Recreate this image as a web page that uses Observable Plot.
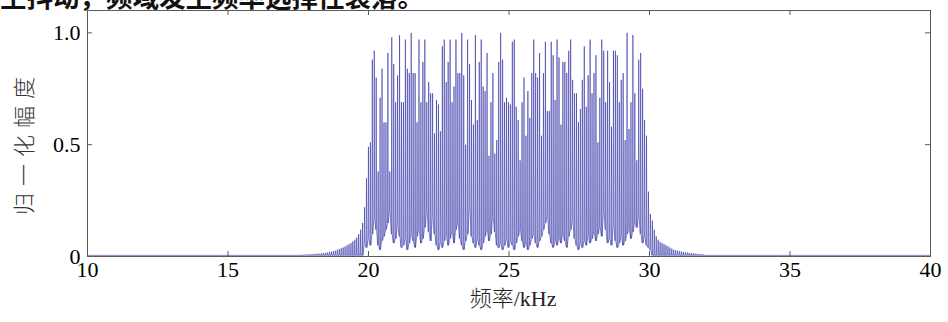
<!DOCTYPE html>
<html><head><meta charset="utf-8">
<script src="https://cdn.jsdelivr.net/npm/d3@7"></script>
<script src="https://cdn.jsdelivr.net/npm/@observablehq/plot@0.6"></script>
<style>
body{margin:0;background:#fff;}
#wrap{position:relative;width:948px;height:322px;overflow:hidden;}
svg{overflow:hidden;}
</style></head><body><div id="wrap"></div>
<script>
const titleText = "生抖动，频域发生频率选择性衰落。";
const xLabel = "频率/kHz";
const yLabel = "归一化幅度";
const xTicks = [10, 15, 20, 25, 30, 35, 40];
const yTicks = [0, 0.5, 1.0];
const xDomain = [10, 40];
const yDomain = [0, 1.1];
// frequency bins (kHz): first bin and bin spacing
const startFreq = 17.645;
const binStep = 0.0692;
const floorLevel = 0.005;
// spike heights, low-frequency skirt
const leftTailPeaks = [0.008,0.008,0.009,0.009,0.01,0.01,0.011,0.012,0.012,0.013,0.014,0.015,0.016,0.018,0.02,0.022,0.024,0.026,0.03,0.033,0.037,0.04,0.045,0.05,0.055,0.06,0.068,0.075,0.085,0.1,0.12,0.15];
// spike heights, main band (~19.9–30 kHz)
const mainPeaks = [0.22,0.35,0.49,0.51,0.88,0.92,0.80,0.38,0.71,0.84,
0.60,0.60,0.91,0.38,0.98,0.86,0.69,0.81,0.99,0.69,
0.69,0.97,0.84,0.82,1.00,0.82,0.82,0.60,0.97,0.69,
0.87,0.97,0.69,0.78,0.73,0.73,0.55,0.70,0.68,0.56,
0.94,0.97,0.78,0.87,0.97,0.69,0.76,0.97,0.82,0.82,
1.00,0.81,0.50,0.97,0.86,0.70,0.59,0.99,0.61,0.87,
0.97,0.76,0.74,0.91,0.45,0.69,0.82,0.46,0.52,0.87,
1.00,0.88,0.69,0.71,0.69,0.68,0.96,0.97,0.67,0.61,
0.43,0.69,0.80,0.54,0.74,0.62,0.82,0.97,0.82,0.80,
0.91,0.54,0.82,0.96,0.65,0.65,0.96,0.90,0.70,0.97,
0.89,0.59,0.87,0.87,0.82,0.92,0.97,0.79,0.73,0.73,
0.60,0.66,0.79,0.94,0.67,0.81,0.97,0.73,0.82,0.90,
0.51,0.71,0.97,0.92,0.69,0.92,0.78,0.58,0.92,0.92,
0.90,0.69,0.79,0.82,0.52,1.00,0.57,0.69,0.99,0.73,
0.43,0.88,0.91,0.75,0.61,0.54,0.29,0.19];
// spike heights, high-frequency skirt
const rightTailPeaks = [0.16,0.12,0.09,0.075,0.065,0.06,0.055,0.05,0.045,0.04,0.035,0.03,0.028,0.026,0.024,0.022,0.02,0.018,0.017,0.016,0.015,0.014,0.013,0.012,0.011,0.01,0.01];
// low-level floor between spikes in the main band
const mainTroughs = [0.06,0.04,0.08,0.05,0.1,0.17,0.12,0.05,0.03,0.07,
0.09,0.12,0.15,0.2,0.1,0.06,0.08,0.14,0.09,0.04,
0.05,0.08,0.03,0.06,0.1,0.07,0.04,0.09,0.12,0.06,
0.08,0.13,0.2,0.11,0.07,0.18,0.1,0.05,0.03,0.06,
0.04,0.07,0.09,0.05,0.08,0.11,0.06,0.12,0.15,0.08,
0.05,0.03,0.07,0.1,0.22,0.09,0.06,0.04,0.08,0.05,
0.03,0.06,0.09,0.12,0.07,0.1,0.18,0.11,0.05,0.04,
0.06,0.03,0.05,0.08,0.04,0.07,0.05,0.03,0.06,0.09,
0.12,0.07,0.04,0.06,0.03,0.05,0.08,0.1,0.06,0.04,
0.07,0.09,0.12,0.15,0.18,0.1,0.06,0.04,0.07,0.05,
0.08,0.06,0.1,0.07,0.04,0.09,0.12,0.16,0.08,0.05,
0.03,0.06,0.04,0.07,0.05,0.09,0.06,0.08,0.11,0.07,
0.1,0.13,0.09,0.2,0.12,0.06,0.08,0.05,0.14,0.07,
0.04,0.06,0.09,0.05,0.07,0.1,0.12,0.08,0.11,0.15,
0.13,0.18,0.1,0.06,0.09,0.05,0.04,0.03];

const peaks = [...leftTailPeaks, ...mainPeaks, ...rightTailPeaks];
const troughs = [...leftTailPeaks.map(() => floorLevel), ...mainTroughs, ...rightTailPeaks.map(() => floorLevel)];
const halfW = 0.014;
const pts = [{f: xDomain[0], a: floorLevel}];
peaks.forEach((p, i) => {
  const f = startFreq + i * binStep;
  pts.push({f: f - halfW, a: troughs[i]});
  pts.push({f: f, a: p});
  pts.push({f: f + halfW, a: troughs[i]});
});
pts.push({f: xDomain[1], a: floorLevel});

const W = 948, H = 322, mL = 87, mR = 18, mT = 10, mB = 66;
const fw = W - mL - mR, fh = H - mT - mB, tick = 5;
const serif = "'Liberation Serif', 'Times New Roman', serif";
const cjk = "'Liberation Serif', 'Noto Sans CJK SC', serif";
const axisColor = "#5a5a5a";

const plot = Plot.plot({
  width: W, height: H,
  marginLeft: mL, marginRight: mR, marginTop: mT, marginBottom: mB,
  x: {domain: xDomain},
  y: {domain: yDomain},
  style: {background: "white", color: "black"},
  marks: [
    Plot.line(pts, {x: "f", y: "a", stroke: "#3333a6", strokeWidth: 0.6}),
    Plot.frame({stroke: axisColor, strokeWidth: 1}),
    Plot.tickX(xTicks, {x: d => d, insetTop: fh - tick, stroke: axisColor}),
    Plot.tickX(xTicks, {x: d => d, insetBottom: fh - tick, stroke: axisColor}),
    Plot.tickY(yTicks, {y: d => d, insetRight: fw - tick, stroke: axisColor}),
    Plot.tickY(yTicks, {y: d => d, insetLeft: fw - tick, stroke: axisColor}),
    Plot.axisX({ticks: xTicks, tickSize: 0, tickPadding: 5, fontSize: 22, fontFamily: serif, label: null, fill: "black"}),
    Plot.axisY({ticks: yTicks, tickSize: 0, tickPadding: 7, fontSize: 22, fontFamily: serif, label: null, fill: "black",
      tickFormat: d => d === 0 ? "0" : d.toFixed(1)}),
    Plot.text([xLabel], {text: d => d, frameAnchor: "bottom", textAnchor: "middle", lineAnchor: "middle", dx: 4, dy: 42,
      fontSize: 22, fontFamily: cjk, fontWeight: 300, fill: "#222"}),
    Plot.text([yLabel], {text: d => d, frameAnchor: "left", textAnchor: "middle", lineAnchor: "middle", rotate: -90,
      dx: -63, dy: 9, fontSize: 22, fontFamily: "'Noto Sans CJK SC', sans-serif", fontWeight: 300, fill: "#333"})
  ]
});
d3.select(plot).selectAll("text").filter(function(){ return this.textContent === yLabel; })
  .style("letter-spacing", "7px");
d3.select(plot).append("text")
  .attr("x", 0).attr("y", 7)
  .attr("text-anchor", "start")
  .attr("font-family", "'Noto Sans CJK SC', sans-serif")
  .attr("font-size", 26.5).attr("font-weight", 700).attr("fill", "#111")
  .text(titleText);
document.getElementById("wrap").appendChild(plot);
</script></body></html>
